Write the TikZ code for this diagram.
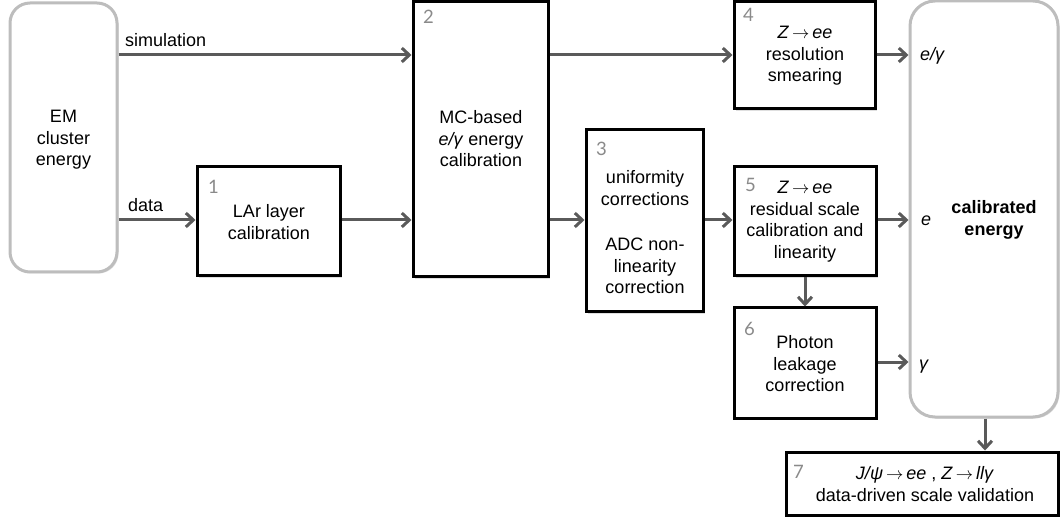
\documentclass[tikz,border=0pt]{standalone}
\usepackage{fontspec}
\setmainfont{Liberation Sans}
\newfontfamily\numfont{Lato}
\usetikzlibrary{arrows.meta,shadows}
\definecolor{arrgray}{HTML}{5A5A5A}
\definecolor{rndgray}{HTML}{BDBDBD}
\definecolor{numgray}{HTML}{8A8A8A}
\newcommand{\ar}{\,$\rightarrow$\,}
\tikzset{
  box/.style={draw=black, line width=3pt, fill=white, inner sep=0pt,
    drop shadow={opacity=0.25, shadow xshift=2pt, shadow yshift=-2pt}},
  rbox/.style={draw=rndgray, line width=3pt, fill=white, inner sep=0pt,
    drop shadow={opacity=0.25, shadow xshift=1.5pt, shadow yshift=-1.5pt}},
  arr/.style={draw=arrgray, line width=3pt, -{Straight Barb[length=7.5pt,width=14pt]}},
  txt/.style={align=center, inner sep=0pt, font=\fontsize{18}{21.5}\selectfont},
  lbl/.style={inner sep=0pt, font=\fontsize{18}{21.5}\selectfont},
  num/.style={inner sep=0pt, text=numgray, font=\numfont\fontsize{18.5}{20}\selectfont},
}
\begin{document}
\begin{tikzpicture}[x=1pt,y=-1pt]
\useasboundingbox (0,0) rectangle (1060,521);
% boxes
\node[rbox, rounded corners=20pt, minimum width=107pt, minimum height=269pt] (em) at (63.5,137.5) {};
\node[box, minimum width=143pt, minimum height=109pt] (b1) at (268.5,221.5) {};
\node[box, minimum width=135pt, minimum height=275.5pt] (b2) at (480.5,139.25) {};
\node[box, minimum width=117pt, minimum height=182pt] (b3) at (644.5,221) {};
\node[box, minimum width=141pt, minimum height=107.5pt] (b4) at (804.5,55.25) {};
\node[box, minimum width=142pt, minimum height=109pt] (b5) at (805,221.5) {};
\node[box, minimum width=142pt, minimum height=110pt] (b6) at (805,363) {};
\node[rbox, rounded corners=25pt, minimum width=148pt, minimum height=416pt] (cal) at (984,209) {};
\node[box, minimum width=272pt, minimum height=63pt] (b7) at (922,483.5) {};
% numbers
\node[num] (n1) at ([shift={(18,21)}]b1.north west) {1};
\node[num] (n2) at ([shift={(17,16.5)}]b2.north west) {2};
\node[num] (n3) at ([shift={(17,20)}]b3.north west) {3};
\node[num] (n4) at ([shift={(16,14.5)}]b4.north west) {4};
\node[num] (n5) at ([shift={(18,19)}]b5.north west) {5};
\node[num] (n6) at ([shift={(17,22)}]b6.north west) {6};
\node[num] (n7) at ([shift={(14,21)}]b7.north west) {7};
% texts
\node[txt] (tem) at (63.5,140) {EM\\cluster\\energy};
\node[txt] (t1) at (269,222) {LAr layer\\calibration};
\node[txt] (t2) at (481,139) {MC-based\\\textit{e/γ} energy\\calibration};
\node[txt] (t3) at (645,232.5) {uniformity\\corrections\\[24pt]ADC non-\\linearity\\correction};
\node[txt] (t4) at (805,56) {\textit{Z}\ar\textit{ee}\\resolution\\smearing};
\node[txt] (t5) at (805,221.5) {\textit{Z}\ar\textit{ee}\\residual scale\\calibration and\\linearity};
\node[txt] (t6) at (805,364) {Photon\\leakage\\correction};
\node[txt, font=\bfseries\fontsize{18}{21.5}\selectfont] (tcal) at (994,220) {calibrated\\energy};
\node[txt] (t7) at (925,484) {\textit{J/ψ}\ar\textit{ee} , \textit{Z}\ar\textit{llγ}\\data-driven scale validation};
% row coordinates
\coordinate (sim) at (0,55);
\coordinate (dat) at (0,220);
\coordinate (gam) at (0,362);
% connectors
\draw[arr] (em.east |- sim) -- (b2.west |- sim);
\draw[arr] (em.east |- dat) -- (b1.west |- dat);
\draw[arr] (b1.east |- dat) -- (b2.west |- dat);
\draw[arr] (b2.east |- sim) -- (b4.west |- sim);
\draw[arr] (b2.east |- dat) -- (b3.west |- dat);
\draw[arr] (b3.east |- dat) -- (b5.west |- dat);
\draw[arr] (b4.east |- sim) -- (cal.west |- sim);
\draw[arr] (b5.east |- dat) -- (cal.west |- dat);
\draw[arr] (b6.east |- gam) -- (cal.west |- gam);
\draw[arr] (b5.south) -- (b6.north);
\coordinate (calx) at (985,0);
\draw[arr] (cal.south -| calx) -- (b7.north -| calx);
% labels
\node[lbl, anchor=west] (lsim) at (125,40) {simulation};
\node[lbl, anchor=west] (ldat) at (128,205) {data};
\node[lbl, anchor=west] (leg) at (920,56) {\textit{e/γ}};
\node[lbl, anchor=west] (le) at (921,221) {\textit{e}};
\node[lbl, anchor=west] (lg) at (919,367) {\textit{γ}};
\end{tikzpicture}
\end{document}
